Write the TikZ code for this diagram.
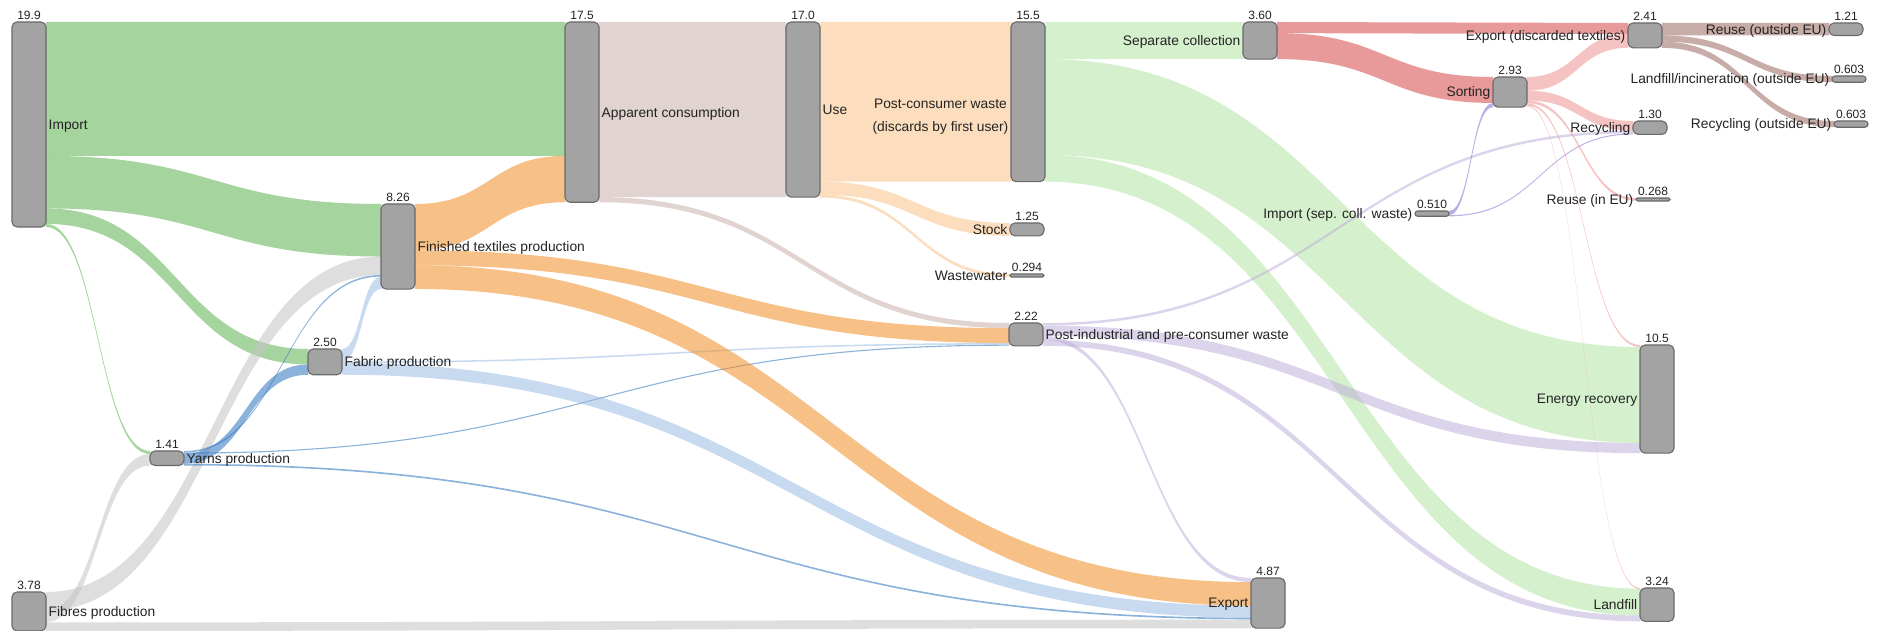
\documentclass[tikz,border=0pt]{standalone}
\usepackage{fontspec}
\setmainfont{Liberation Sans}
\usetikzlibrary{calc}
\pgfdeclarelayer{links}
\pgfsetlayers{links,main}

% flow colours (drawn with transparency)
\definecolor{cImp}{RGB}{93,177,79}
\definecolor{cFib}{RGB}{196,196,196}
\definecolor{cYarn}{RGB}{45,115,190}
\definecolor{cFab}{RGB}{155,188,228}
\definecolor{cFtp}{RGB}{242,142,37}
\definecolor{cAc}{RGB}{200,175,170}
\definecolor{cUse}{RGB}{250,195,137}
\definecolor{cPcw}{RGB}{179,228,164}
\definecolor{cPi}{RGB}{191,177,219}
\definecolor{cSc}{RGB}{214,70,70}
\definecolor{cIsc}{RGB}{137,109,210}
\definecolor{cSort}{RGB}{239,146,146}
\definecolor{cExpd}{RGB}{155,104,97}
% node colours
\definecolor{cNode}{RGB}{163,163,163}
\definecolor{cNodeLine}{RGB}{105,105,105}
\definecolor{cText}{RGB}{35,35,35}

% pixels per unit of flow
\def\kk{10.3}

% node: name, left x, top y (from the top edge), value, corner radius
\newcommand{\nd}[5]{%
  \node[box, minimum height={max(#4*\kk,3)}, rounded corners=#5pt] (#1) at (#2,{631-#3}) {};}

% flow band: source, target, offset at source, offset at target, value, colour
\newcommand{\lnk}[6]{%
  \fill[#6, fill opacity=0.55] let \p1=(#1.north east), \p2=(#2.north west),
    \n1={\y1-(#3)*\kk}, \n2={\y2-(#4)*\kk}, \n3={max((#5)*\kk,1.1)},
    \n4={(\x1+\x2)/2}, \n5={\x1}, \n6={\x2} in
    (\n5,\n1) .. controls (\n4,\n1) and (\n4,\n2) .. (\n6,\n2)
    -- (\n6,\n2-\n3) .. controls (\n4,\n2-\n3) and (\n4,\n1-\n3) .. (\n5,\n1-\n3) -- cycle;}

% value above a node, names to the right or to the left of a node
\newcommand{\numlab}[2]{\node[vlab] at ([yshift=2.5pt]#1.north) {#2};}
\newcommand{\rlab}[2]{\node[nlab, anchor=base west] at ([xshift=2.5pt,yshift=-4.9pt]#1.east) {#2};}
\newcommand{\llab}[2]{\node[nlab, anchor=base east] at ([xshift=-2.5pt,yshift=-4.9pt]#1.west) {#2};}

\begin{document}
\begin{tikzpicture}[x=1pt, y=1pt,
  box/.style={draw=cNodeLine, fill=cNode, line width=1.1pt, minimum width=34pt,
              inner sep=0pt, outer sep=0pt, anchor=north west},
  nlab/.style={font=\fontsize{13.8}{16}\selectfont, text=cText, inner sep=0pt},
  vlab/.style={font=\fontsize{12}{14}\selectfont, text=cText, inner sep=0pt, anchor=base}]

\useasboundingbox (0,0) rectangle (1879,631);

% ---- nodes ----
\nd{imp}{12}{22}{19.9}{5}
\nd{fib}{12}{592}{3.78}{5}
\nd{yarn}{150}{451}{1.41}{5}
\nd{fab}{308}{349}{2.50}{5}
\nd{ftp}{381}{204}{8.26}{5}
\nd{ac}{565}{22}{17.5}{5}
\nd{use}{786}{22}{17.0}{5}
\nd{pcw}{1011}{22}{15.5}{5}
\nd{stock}{1010}{223}{1.25}{5}
\nd{ww}{1010}{274}{0.294}{1.5}
\nd{pi}{1009}{323}{2.22}{5}
\nd{exp}{1251}{578}{4.87}{5}
\nd{sc}{1243}{22}{3.60}{5}
\nd{isc}{1415}{211}{0.510}{2.6}
\nd{sort}{1493}{77}{2.93}{5}
\nd{expd}{1628}{23}{2.41}{5}
\nd{rec}{1633}{121}{1.30}{5}
\nd{reu}{1636}{198}{0.268}{1.5}
\nd{en}{1640}{345}{10.5}{5}
\nd{lf}{1640}{588}{3.24}{5}
\nd{reo}{1829}{23}{1.21}{5}
\nd{lfo}{1832}{76}{0.603}{3}
\nd{reco}{1834}{121}{0.603}{3}

% ---- flows ----
\begin{pgfonlayer}{links}
\fill[white] (0,0) rectangle (1879,631);
% import
\lnk{imp}{ac}{0}{0}{13.0}{cImp}
\lnk{imp}{ftp}{13.0}{0}{5.1}{cImp}
\lnk{imp}{fab}{18.1}{0}{1.5}{cImp}
\lnk{imp}{yarn}{19.6}{0}{0.3}{cImp}
% fibres
\lnk{fib}{ftp}{0}{5.1}{1.8}{cFib}
\lnk{fib}{yarn}{1.8}{0.3}{1.11}{cFib}
\lnk{fib}{exp}{2.95}{4.05}{0.83}{cFib}
% yarns
\lnk{yarn}{ftp}{0}{6.9}{0.15}{cYarn}
\lnk{yarn}{pi}{0.15}{2.1}{0.1}{cYarn}
\lnk{yarn}{fab}{0.25}{1.5}{1.0}{cYarn}
\lnk{yarn}{exp}{1.25}{3.85}{0.16}{cYarn}
% fabric
\lnk{fab}{ftp}{0}{7.05}{1.2}{cFab}
\lnk{fab}{pi}{1.2}{1.95}{0.15}{cFab}
\lnk{fab}{exp}{1.35}{2.7}{1.15}{cFab}
% finished textiles
\lnk{ftp}{ac}{0}{13.0}{4.5}{cFtp}
\lnk{ftp}{pi}{4.5}{0.5}{1.45}{cFtp}
\lnk{ftp}{exp}{5.95}{0.4}{2.3}{cFtp}
% apparent consumption
\lnk{ac}{use}{0}{0}{17.0}{cAc}
\lnk{ac}{pi}{17.0}{0}{0.5}{cAc}
% use
\lnk{use}{pcw}{0}{0}{15.5}{cUse}
\lnk{use}{stock}{15.5}{0}{1.25}{cUse}
\lnk{use}{ww}{16.75}{0}{0.294}{cUse}
% post-consumer waste
\lnk{pcw}{sc}{0}{0}{3.6}{cPcw}
\lnk{pcw}{en}{3.6}{0.2}{9.3}{cPcw}
\lnk{pcw}{lf}{12.9}{0.07}{2.6}{cPcw}
% post-industrial waste
\lnk{pi}{rec}{0}{0.95}{0.25}{cPi}
\lnk{pi}{en}{0.25}{9.5}{1.0}{cPi}
\lnk{pi}{exp}{1.25}{0}{0.4}{cPi}
\lnk{pi}{lf}{1.65}{2.67}{0.57}{cPi}
% separate collection
\lnk{sc}{expd}{0}{0}{1.08}{cSc}
\lnk{sc}{sort}{1.08}{0}{2.52}{cSc}
% imported collected waste
\lnk{isc}{sort}{0}{2.52}{0.41}{cIsc}
\lnk{isc}{rec}{0.41}{1.2}{0.1}{cIsc}
% sorting
\lnk{sort}{expd}{0}{1.08}{1.33}{cSort}
\lnk{sort}{rec}{1.33}{0}{0.95}{cSort}
\lnk{sort}{reu}{2.28}{0}{0.268}{cSort}
\lnk{sort}{en}{2.548}{0}{0.2}{cSort}
\lnk{sort}{lf}{2.748}{0}{0.1}{cSort}
% exported discarded textiles
\lnk{expd}{reo}{0}{0}{1.21}{cExpd}
\lnk{expd}{lfo}{1.21}{0}{0.603}{cExpd}
\lnk{expd}{reco}{1.813}{0}{0.603}{cExpd}
\end{pgfonlayer}

% ---- values ----
\numlab{imp}{19.9}
\numlab{fib}{3.78}
\numlab{yarn}{1.41}
\numlab{fab}{2.50}
\numlab{ftp}{8.26}
\numlab{ac}{17.5}
\numlab{use}{17.0}
\numlab{pcw}{15.5}
\numlab{stock}{1.25}
\numlab{ww}{0.294}
\numlab{pi}{2.22}
\numlab{exp}{4.87}
\numlab{sc}{3.60}
\numlab{isc}{0.510}
\numlab{sort}{2.93}
\numlab{expd}{2.41}
\numlab{rec}{1.30}
\numlab{reu}{0.268}
\numlab{en}{10.5}
\numlab{lf}{3.24}
\numlab{reo}{1.21}
\numlab{lfo}{0.603}
\numlab{reco}{0.603}

% ---- names ----
\rlab{imp}{Import}
\rlab{fib}{Fibres production}
\rlab{yarn}{Yarns production}
\rlab{fab}{Fabric production}
\rlab{ftp}{Finished textiles production}
\rlab{ac}{Apparent consumption}
\rlab{use}{Use}
\node[nlab, anchor=base east, font=\fontsize{13.8}{23}\selectfont]
  at ([xshift=-2.5pt,yshift=-7pt]pcw.west)
  {\begin{tabular}[t]{@{}c@{}}Post-consumer waste\\(discards by first user)\end{tabular}};
\llab{stock}{Stock}
\llab{ww}{Wastewater}
\rlab{pi}{Post-industrial and pre-consumer waste}
\llab{exp}{Export}
\llab{sc}{Separate collection}
\llab{isc}{Import (sep. coll. waste)}
\llab{sort}{Sorting}
\llab{expd}{Export (discarded textiles)}
\llab{rec}{Recycling}
\llab{reu}{Reuse (in EU)}
\llab{en}{Energy recovery}
\llab{lf}{Landfill}
\llab{reo}{Reuse (outside EU)}
\llab{lfo}{Landfill/incineration (outside EU)}
\llab{reco}{Recycling (outside EU)}
\end{tikzpicture}
\end{document}
